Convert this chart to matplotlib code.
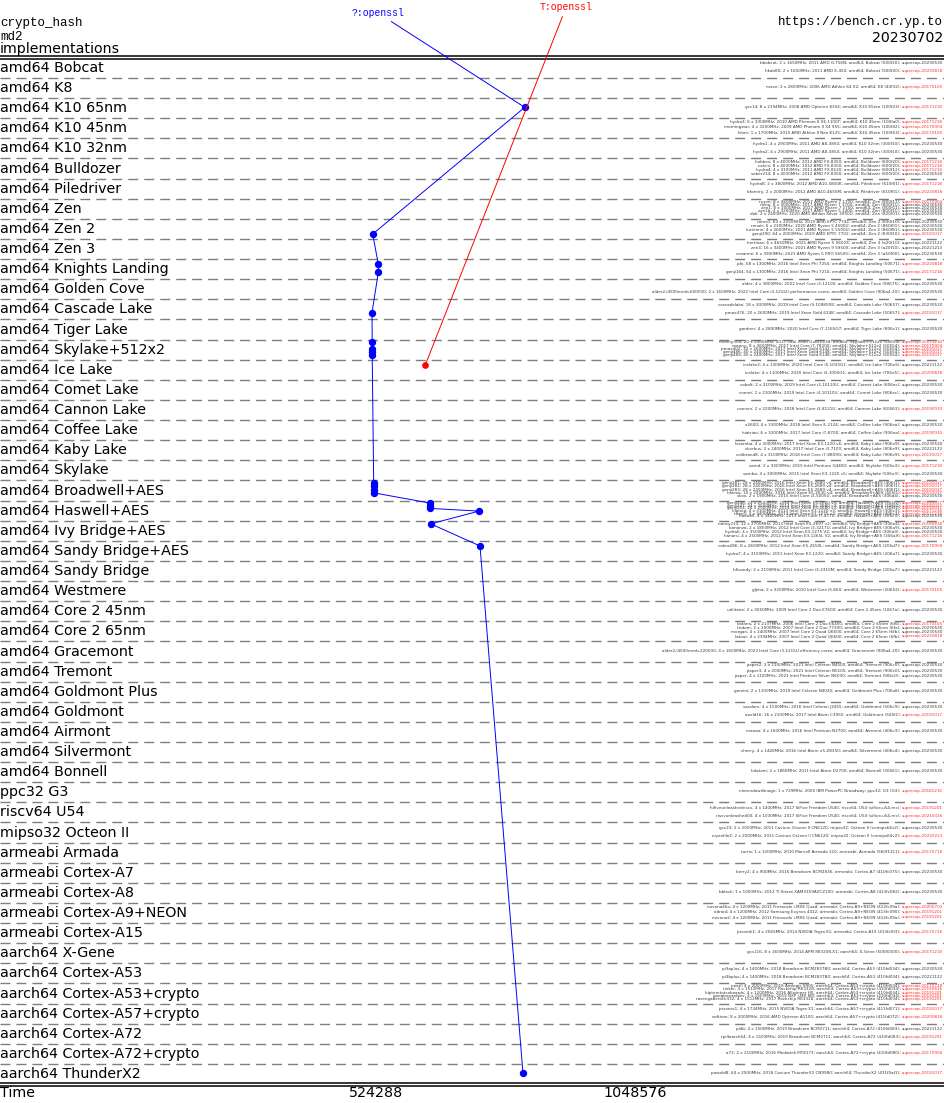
import matplotlib.pyplot as plt
from matplotlib.transforms import blended_transform_factory

# platform rows, top to bottom
platforms = [
    "amd64 Bobcat", "amd64 K8", "amd64 K10 65nm", "amd64 K10 45nm", "amd64 K10 32nm",
    "amd64 Bulldozer", "amd64 Piledriver", "amd64 Zen", "amd64 Zen 2", "amd64 Zen 3",
    "amd64 Knights Landing", "amd64 Golden Cove", "amd64 Cascade Lake", "amd64 Tiger Lake",
    "amd64 Skylake+512x2", "amd64 Ice Lake", "amd64 Comet Lake", "amd64 Cannon Lake",
    "amd64 Coffee Lake", "amd64 Kaby Lake", "amd64 Skylake", "amd64 Broadwell+AES",
    "amd64 Haswell+AES", "amd64 Ivy Bridge+AES", "amd64 Sandy Bridge+AES", "amd64 Sandy Bridge",
    "amd64 Westmere", "amd64 Core 2 45nm", "amd64 Core 2 65nm", "amd64 Gracemont",
    "amd64 Tremont", "amd64 Goldmont Plus", "amd64 Goldmont", "amd64 Airmont",
    "amd64 Silvermont", "amd64 Bonnell", "ppc32 G3", "riscv64 U54", "mipso32 Octeon II",
    "armeabi Armada", "armeabi Cortex-A7", "armeabi Cortex-A8", "armeabi Cortex-A9+NEON",
    "armeabi Cortex-A15", "aarch64 X-Gene", "aarch64 Cortex-A53", "aarch64 Cortex-A53+crypto",
    "aarch64 Cortex-A57+crypto", "aarch64 Cortex-A72", "aarch64 Cortex-A72+crypto",
    "aarch64 ThunderX2",
]

# machines per platform: (host, description, supercop version)
machines = [
    [("bbobcat", "2 x 1650MHz; 2011 AMD G-T56N; amd64; Bobcat (500f10)", "20230530"),
     ("hkab80", "2 x 1650MHz; 2011 AMD E-450; amd64; Bobcat (500f20)", "20220818")],
    [("mace", "2 x 2800MHz; 2006 AMD Athlon 64 X2; amd64; K8 (40f32)", "20170105")],
    [("gcc14", "8 x 2194MHz; 2008 AMD Opteron 8354; amd64; K10 65nm (100f23)", "20171218")],
    [("hydra3", "6 x 3300MHz; 2010 AMD Phenom II X6 1100T; amd64; K10 45nm (100fa0)", "20171218"),
     ("morningstar", "4 x 3200MHz; 2009 AMD Phenom II X4 955; amd64; K10 45nm (100f42)", "20170904"),
     ("khan", "1 x 1700MHz; 2010 AMD Athlon II Neo K125; amd64; K10 45nm (100f63)", "20170105")],
    [("hydra1", "4 x 2900MHz; 2011 AMD A8-3850; amd64; K10 32nm (300f10)", "20230530"),
     ("hydra2", "4 x 2900MHz; 2011 AMD A8-3850; amd64; K10 32nm (300f10)", "20230530")],
    [("hobbes", "8 x 4000MHz; 2012 AMD FX-8350; amd64; Bulldozer (600f20)", "20171218"),
     ("calvin", "8 x 4000MHz; 2012 AMD FX-8350; amd64; Bulldozer (600f20)", "20171218"),
     ("hydra4", "4 x 3100MHz; 2011 AMD FX-8120; amd64; Bulldozer (600f12)", "20171218"),
     ("saber214", "8 x 4000MHz; 2012 AMD FX-8350; amd64; Bulldozer (600f20)", "20230530")],
    [("hydra8", "2 x 3800MHz; 2012 AMD A10-5800K; amd64; Piledriver (610f01)", "20171218"),
     ("bforniry", "2 x 2000MHz; 2012 AMD A10-4655M; amd64; Piledriver (610f01)", "20220818")],
    [("ryzen", "8 x 3600MHz; 2017 AMD Ryzen 7 1700; amd64; Zen (800f11)", "20170904"),
     ("rokio", "8 x 3000MHz; 2017 AMD Ryzen 7 1700; amd64; Zen (800f11)", "20230530"),
     ("zen1", "8 x 3000MHz; 2017 AMD Ryzen 7 1700; amd64; Zen (800f11)", "20230530"),
     ("zen1b", "4 x 3200MHz; 2017 AMD Ryzen 5 1400; amd64; Zen (800f11)", "20230530"),
     ("dali", "2 x 2400MHz; 2020 AMD Athlon Silver 3050U; amd64; Zen (820f01)", "20230530")],
    [("rome1", "64 x 2250MHz; 2019 AMD EPYC 7742; amd64; Zen 2 (830f10)", "20230530"),
     ("renoir", "6 x 2300MHz; 2020 AMD Ryzen 5 4500U; amd64; Zen 2 (860f01)", "20230530"),
     ("lucienne", "4 x 2600MHz; 2021 AMD Ryzen 5 5500U; amd64; Zen 2 (860f81)", "20230530"),
     ("genji390", "64 x 2000MHz; 2019 AMD EPYC 7702; amd64; Zen 2 (830f10)", "20191017")],
    [("hertinas", "6 x 4650MHz; 2021 AMD Ryzen 5 5600X; amd64; Zen 3 (a20f10)", "20221122"),
     ("zen3", "16 x 3400MHz; 2021 AMD Ryzen 9 5950X; amd64; Zen 3 (a20f10)", "20221213"),
     ("cezanne", "6 x 3900MHz; 2021 AMD Ryzen 5 PRO 5650G; amd64; Zen 3 (a50f00)", "20230530")],
    [("phi", "68 x 1300MHz; 2016 Intel Xeon Phi 7250; amd64; Knights Landing (50671)", "20220818"),
     ("genji164", "64 x 1300MHz; 2016 Intel Xeon Phi 7210; amd64; Knights Landing (50671)", "20171218")],
    [("alder", "4 x 3800MHz; 2022 Intel Core i3-12100; amd64; Golden Cove (90675)", "20230530"),
     ("alder2,i4500mmb,600000", "2 x 1600MHz; 2022 Intel Core i3-1215U performance cores; amd64; Golden Cove (906a4-20)", "20230530")],
    [("cascadelake", "18 x 3000MHz; 2019 Intel Core i9-10980XE; amd64; Cascade Lake (50657)", "20230530"),
     ("pmax476", "20 x 2600MHz; 2019 Intel Xeon Gold 6248; amd64; Cascade Lake (50657)", "20191017")],
    [("gardner", "4 x 2800MHz; 2020 Intel Core i7-1165G7; amd64; Tiger Lake (806c1)", "20230530")],
    [("manny304", "20 x 2000MHz; 2017 Intel Xeon Gold 6138; amd64; Skylake+512x2 (50654)", "20171218"),
     ("manny", "8 x 3600MHz; 2017 Intel Core i7-7820X; amd64; Skylake+512x2 (50654)", "20170904"),
     ("pmax402", "32 x 2600MHz; 2017 Intel Xeon Gold 6142; amd64; Skylake+512x2 (50654)", "20191017"),
     ("genji486", "40 x 2400MHz; 2017 Intel Xeon Gold 6148; amd64; Skylake+512x2 (50654)", "20191017"),
     ("genji489", "40 x 2400MHz; 2017 Intel Xeon Gold 6148; amd64; Skylake+512x2 (50654)", "20191017")],
    [("icelake2", "4 x 1300MHz; 2020 Intel Core i5-1035G1; amd64; Ice Lake (706e5)", "20221122"),
     ("icelake", "4 x 1100MHz; 2020 Intel Core i3-1005G1; amd64; Ice Lake (706e5)", "20200826")],
    [("cobalt", "2 x 2100MHz; 2019 Intel Core i3-10110U; amd64; Comet Lake (806ec)", "20230530"),
     ("comet", "2 x 2100MHz; 2019 Intel Core i3-10110U; amd64; Comet Lake (806ec)", "20230530")],
    [("cannon", "2 x 2200MHz; 2018 Intel Core i3-8121U; amd64; Cannon Lake (60663)", "20190910")],
    [("x2600", "4 x 3300MHz; 2018 Intel Xeon E-2124; amd64; Coffee Lake (906ea)", "20230530"),
     ("hiatrian", "6 x 3200MHz; 2017 Intel Core i7-8700; amd64; Coffee Lake (906ea)", "20190910")],
    [("kizomba", "4 x 3000MHz; 2017 Intel Xeon E3-1220 v6; amd64; Kaby Lake (906e9)", "20230530"),
     ("skorbus", "2 x 2400MHz; 2017 Intel Core i3-7100; amd64; Kaby Lake (806e9)", "20221122"),
     ("colibrand8", "4 x 3100MHz; 2018 Intel Core i7-8809G; amd64; Kaby Lake (906e9)", "20191017")],
    [("samd", "2 x 3300MHz; 2015 Intel Pentium G4400; amd64; Skylake (506e3)", "20171218"),
     ("samba", "4 x 3000MHz; 2015 Intel Xeon E3-1220 v5; amd64; Skylake (506e3)", "20230530")],
    [("genji281", "28 x 2400MHz; 2016 Intel Xeon E5-2680 v4; amd64; Broadwell+AES (406f1)", "20191017"),
     ("genji282", "28 x 2400MHz; 2016 Intel Xeon E5-2680 v4; amd64; Broadwell+AES (406f1)", "20191017"),
     ("genji283", "28 x 2400MHz; 2016 Intel Xeon E5-2680 v4; amd64; Broadwell+AES (406f1)", "20191017"),
     ("hoiexo", "10 x 2200MHz; 2016 Intel Xeon E5-2630 v4; amd64; Broadwell+AES (406f1)", "20191017"),
     ("skox", "2 x 1900MHz; 2015 Intel Core i3-5005U; amd64; Broadwell+AES (306d4)", "20230530")],
    [("genji246", "24 x 2500MHz; 2014 Intel Xeon E5-2680 v3; amd64; Haswell+AES (306f2)", "20191017"),
     ("genji247", "24 x 2500MHz; 2014 Intel Xeon E5-2680 v3; amd64; Haswell+AES (306f2)", "20191017"),
     ("genji254", "24 x 2500MHz; 2014 Intel Xeon E5-2680 v3; amd64; Haswell+AES (306f2)", "20191017"),
     ("hiphop", "4 x 3100MHz; 2013 Intel Xeon E3-1220 v3; amd64; Haswell+AES (306c3)", "20171218"),
     ("titan0", "4 x 3400MHz; 2013 Intel Xeon E3-1275 v3; amd64; Haswell+AES (306c3)", "20171218"),
     ("haswell", "4 x 3400MHz; 2013 Intel Core i7-4770; amd64; Haswell+AES (306c3)", "20230530")],
    [("nancy213", "12 x 2700MHz; 2013 Intel Xeon E5-2697 v2; amd64; Ivy Bridge+AES (306e4)", "20180818"),
     ("bonanza", "2 x 1800MHz; 2012 Intel Core i3-3217U; amd64; Ivy Bridge+AES (306a9)", "20230530"),
     ("hydra6", "4 x 3500MHz; 2012 Intel Xeon E3-1275 V2; amd64; Ivy Bridge+AES (306a9)", "20230530"),
     ("hanaru", "4 x 2500MHz; 2012 Intel Xeon E3-1265L V2; amd64; Ivy Bridge+AES (306a9)", "20171218")],
    [("cobra286", "8 x 2600MHz; 2012 Intel Xeon E5-2650L; amd64; Sandy Bridge+AES (206d7)", "20170904"),
     ("hydra7", "4 x 3100MHz; 2011 Intel Xeon E3-1220; amd64; Sandy Bridge+AES (206a7)", "20230530")],
    [("h6sandy", "2 x 2100MHz; 2011 Intel Core i3-2310M; amd64; Sandy Bridge (206a7)", "20221122")],
    [("gljma", "2 x 3200MHz; 2010 Intel Core i5-660; amd64; Westmere (20652)", "20170105")],
    [("utilitaire", "2 x 3060MHz; 2009 Intel Core 2 Duo E7600; amd64; Core 2 45nm (1067a)", "20230530")],
    [("katana", "2 x 2137MHz; 2006 Intel Core 2 Duo E6400; amd64; Core 2 65nm (6f6)", "20170105"),
     ("tridom", "2 x 2000MHz; 2007 Intel Core 2 Duo T7300; amd64; Core 2 65nm (6fa)", "20230530"),
     ("morgan", "4 x 2400MHz; 2007 Intel Core 2 Quad Q6600; amd64; Core 2 65nm (6fb)", "20230530"),
     ("latour", "4 x 2394MHz; 2007 Intel Core 2 Quad Q6600; amd64; Core 2 65nm (6fb)", "20220818")],
    [("alder2,i4500mmb,220000", "4 x 1600MHz; 2022 Intel Core i3-1215U efficiency cores; amd64; Gracemont (906a4-20)", "20230530")],
    [("jasper2", "2 x 1100MHz; 2021 Intel Celeron N4500; amd64; Tremont (906c0)", "20230530"),
     ("jasper3", "4 x 2000MHz; 2021 Intel Celeron N5105; amd64; Tremont (906c0)", "20230530"),
     ("jasper", "4 x 1100MHz; 2021 Intel Pentium Silver N6000; amd64; Tremont (906c0)", "20230530")],
    [("gemini", "2 x 1100MHz; 2019 Intel Celeron N4020; amd64; Goldmont Plus (706a8)", "20230530")],
    [("saxdam", "4 x 1500MHz; 2016 Intel Celeron J3455; amd64; Goldmont (506c9)", "20230530"),
     ("awrld16", "16 x 2100MHz; 2017 Intel Atom C3955; amd64; Goldmont (506f1)", "20191017")],
    [("manao", "4 x 1600MHz; 2016 Intel Pentium N3700; amd64; Airmont (406c3)", "20230530")],
    [("cherry", "4 x 1440MHz; 2016 Intel Atom x5-Z8350; amd64; Silvermont (406c4)", "20230530")],
    [("h4atom", "2 x 1866MHz; 2011 Intel Atom D2700; amd64; Bonnell (30661)", "20230530")],
    [("nintendowiilinage", "1 x 729MHz; 2006 IBM PowerPC Broadway; ppc32; G3 (G3)", "20181216")],
    [("hifiveunleashedriscv", "4 x 1400MHz; 2017 SiFive Freedom U540; riscv64; U54 (sifive,u54-mc)", "20191201"),
     ("riscvunleashed00", "4 x 1000MHz; 2017 SiFive Freedom U540; riscv64; U54 (sifive,u54-mc)", "20210326")],
    [("gcc23", "2 x 2000MHz; 2011 Cavium Octeon II CN6120; mipso32; Octeon II (cnmips64v2)", "20230530"),
     ("erprofile2", "2 x 2000MHz; 2011 Cavium Octeon II CN6120; mipso32; Octeon II (cnmips64v2)", "20220213")],
    [("turris", "1 x 1200MHz; 2010 Marvell Armada 310; armeabi; Armada (560f1311)", "20170718")],
    [("berry2", "4 x 900MHz; 2016 Broadcom BCM2836; armeabi; Cortex-A7 (410fc075)", "20230530")],
    [("bblack", "1 x 1000MHz; 2012 TI Sitara XAM3359AZCZ100; armeabi; Cortex-A8 (413fc082)", "20230530")],
    [("novena4ho", "4 x 1200MHz; 2011 Freescale i.MX6 Quad; armeabi; Cortex-A9+NEON (412fc09a)", "20200702"),
     ("odroid", "4 x 1200MHz; 2012 Samsung Exynos 4412; armeabi; Cortex-A9+NEON (413fc090)", "20191201"),
     ("novena2", "4 x 1200MHz; 2011 Freescale i.MX6 Quad; armeabi; Cortex-A9+NEON (412fc09a)", "20191201")],
    [("jetsontk1", "4 x 2065MHz; 2014 NVIDIA Tegra K1; armeabi; Cortex-A15 (413fc0f3)", "20170726")],
    [("gcc116", "8 x 1600MHz; 2014 APM 883208-X1; aarch64; X-Gene (500f0000)", "20171218")],
    [("pi3aplus", "4 x 1400MHz; 2018 Broadcom BCM2837B0; aarch64; Cortex-A53 (410fd034)", "20230530"),
     ("pi3bplus", "4 x 1400MHz; 2018 Broadcom BCM2837B0; aarch64; Cortex-A53 (410fd034)", "20221122")],
    [("pearl", "4 x 2000MHz; 2016 Amlogic S905; aarch64; Cortex-A53+crypto (410fd034)", "20170728"),
     ("tinker", "4 x 1512MHz; 2017 Rockchip RK3328; aarch64; Cortex-A53+crypto (410fd034)", "20190816"),
     ("hiptomtotsoboards", "4 x 1200MHz; 2016 Allwinner H5; aarch64; Cortex-A53+crypto (410fd034)", "20191201"),
     ("googlecoraldev", "4 x 1500MHz; 2019 NXP i.MX 8M; aarch64; Cortex-A53+crypto (410fd034)", "20191201"),
     ("rasengaberock332", "4 x 1512MHz; 2017 Rockchip RK3328; aarch64; Cortex-A53+crypto (410fd034)", "20191201")],
    [("jetsontx1", "4 x 1734MHz; 2015 NVIDIA Tegra X1; aarch64; Cortex-A57+crypto (411fd071)", "20191017"),
     ("softiron", "8 x 2000MHz; 2016 AMD Opteron A1100; aarch64; Cortex-A57+crypto (411fd072)", "20200826")],
    [("pi4b", "4 x 1500MHz; 2019 Broadcom BCM2711; aarch64; Cortex-A72 (410fd083)", "20221122"),
     ("rpi4aarch64", "4 x 1500MHz; 2019 Broadcom BCM2711; aarch64; Cortex-A72 (410fd083)", "20191201")],
    [("a72", "2 x 2100MHz; 2016 Mediatek MT8173; aarch64; Cortex-A72+crypto (410fd080)", "20170904")],
    [("pwoold8", "64 x 2500MHz; 2018 Cavium ThunderX2 CN9980; aarch64; ThunderX2 (431f0af1)", "20191017")],
]

# cycles per host for each implementation
openssl_ref = {
    "gcc14": 824300, "genji390": 516600, "phi": 528000, "genji164": 528000,
    "pmax476": 515200, "manny304": 515600, "pmax402": 515600, "genji486": 515600,
    "genji489": 515600, "genji281": 518600, "genji282": 518600, "genji283": 518600,
    "hoiexo": 518600, "genji246": 632600, "genji247": 632600, "genji254": 632600,
    "hiphop": 731800, "nancy213": 634000, "cobra286": 733800, "pwoold8": 820800,
}
openssl_const = {"icelake2": 623100}

x_ticks = [524288, 1048576]

W, H = 945, 1103
ROW_PX = 20.12
TOP_PX = 57.9
ORIGIN_PX = 117.5
CYC_PER_PX = 524288 / 259
GRAY = "#3a3a3a"
RED = "#ff2a2a"


def py(px):
    """pixel row from the top -> data y"""
    return (px - TOP_PX) / ROW_PX


def machine_y(row, i, n):
    step = 16.0 / n
    return py(row * ROW_PX + TOP_PX + 9.2 + (i - (n - 1) / 2) * step)


fig = plt.figure(figsize=(W / 100, H / 100), dpi=100)
ax = fig.add_axes([0, 0, 1, 1])
ax.set_axis_off()
ax.set_xlim(-ORIGIN_PX * CYC_PER_PX, (W - ORIGIN_PX) * CYC_PER_PX)
ax.set_ylim(py(H), py(0))
trans = blended_transform_factory(ax.transAxes, ax.transData)

# header
fig.text(0, 1 - 26 / H, "crypto_hash", family="Liberation Mono", fontsize=9, va="baseline")
fig.text(0, 1 - 40 / H, "md2", family="Liberation Mono", fontsize=9, va="baseline")
fig.text(0, 1 - 52.5 / H, "implementations", family="DejaVu Sans", fontsize=10.2, va="baseline")
fig.text(943 / W, 1 - 25.5 / H, "https://bench.cr.yp.to", family="Liberation Mono",
         fontsize=9, ha="right", va="baseline")
fig.text(943 / W, 1 - 41.5 / H, "20230702", family="DejaVu Sans", fontsize=10.2,
         ha="right", va="baseline")

# frame lines
for y in (0 - 1.4 / ROW_PX, 0 + 1.4 / ROW_PX,
          len(platforms) - 1.5 / ROW_PX, len(platforms) + 1.5 / ROW_PX):
    ax.axhline(y, color="black", lw=1.1)
for k in range(1, len(platforms)):
    ax.axhline(k, color="#7f7f7f", lw=1.0, dashes=(7.2, 4.3))

# platform labels
for r, name in enumerate(platforms):
    ax.text(0.0, r + 1 - 6 / ROW_PX, name, transform=trans, fontsize=10.3,
            family="DejaVu Sans", va="baseline")

# machine descriptions
host_y = {}
for r, group in enumerate(machines):
    n = len(group)
    for i, (host, spec, ver) in enumerate(group):
        y = machine_y(r, i, n)
        host_y[host] = y
        col = RED if ver < "20221122" else GRAY
        sup = ax.text(943 / W, y, "supercop-" + ver, transform=trans, ha="right",
                      va="center", fontsize=3, color=col)
        ax.annotate(f"{host}; {spec}; ", xy=(0, 0.5), xycoords=sup, ha="right",
                    va="center", fontsize=3, color=GRAY)


def draw_impl(values, label, color, label_x, label_y, ms):
    pts = sorted((host_y[h], c) for h, c in values.items())
    ys = [p[0] for p in pts]
    xs = [p[1] for p in pts]
    ax.plot(xs, ys, color=color, lw=0.7, marker="o", ms=ms, mfc=color, mec=color)
    ax.annotate(label, xy=(xs[0], ys[0]), xytext=(label_x / W, 1 - label_y / H),
                textcoords="figure fraction", ha="center", va="baseline",
                family="Liberation Mono", fontsize=7, color=color,
                arrowprops=dict(arrowstyle="-", color=color, lw=0.7, shrinkA=1, shrinkB=0))


draw_impl(openssl_ref, "?:openssl", "blue", 378, 16, 4.3)
draw_impl(openssl_const, "T:openssl", "red", 566, 10.5, 3.8)

# time axis
fig.text(0, 1 - 1097 / H, "Time", family="DejaVu Sans", fontsize=10.3, va="baseline")
for t in x_ticks:
    ax.text(t, py(1097), str(t), family="DejaVu Sans", fontsize=10.3, ha="center",
            va="baseline")

fig.savefig("out.png", dpi=100)
